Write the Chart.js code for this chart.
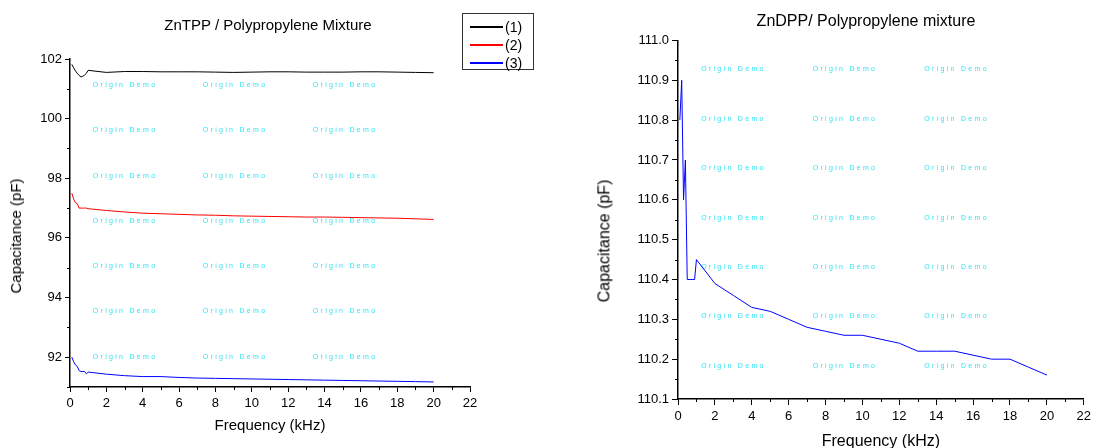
<!DOCTYPE html>
<html>
<head>
<meta charset="utf-8">
<script src="https://cdn.jsdelivr.net/npm/chart.js@4.4.1/dist/chart.umd.min.js"></script>
<style>
    body { margin: 0; width: 1095px; height: 448px; overflow: hidden; background: #fff; position: relative;
           font-family: "Liberation Sans", Arial, sans-serif; color: #000; }
    .wrap { position: absolute; top: 0; }
    #wrapL { left: 0; width: 545px; height: 448px; }
    #wrapR { left: 560px; width: 535px; height: 460px; }
    .title { position: absolute; white-space: nowrap; transform: translateX(-50%); }
    .ytitle { position: absolute; white-space: nowrap; line-height: 1.2; transform: translate(-50%, -50%) rotate(-90deg); }
    #legend { position: absolute; left: 462px; top: 13px; width: 72px; height: 57px; box-sizing: border-box;
              border: 1px solid #333; background: #fff; padding-top: 4px; font-size: 14px; forced-color-adjust: none; }
    #legend .row { height: 18px; display: flex; align-items: center; }
    #legend canvas { display: block; margin-left: 7px; margin-right: 2px; }
</style>
</head>
<body>

<div class="wrap" id="wrapL"><canvas id="chartL" width="545" height="448"></canvas></div>
<div class="wrap" id="wrapR"><canvas id="chartR" width="535" height="460"></canvas></div>

<div class="title" style="left:268px; top:16px; font-size:15px; line-height:18px;">ZnTPP / Polypropylene Mixture</div>
<div class="title" style="left:866px; top:11px; font-size:16px; line-height:19px;">ZnDPP/ Polypropylene mixture</div>
<div class="ytitle" style="left:15.5px; top:236px; font-size:15px;">Capacitance (pF)</div>
<div class="ytitle" style="left:604px; top:241px; font-size:16px;">Capacitance (pF)</div>
<div id="legend"></div>

<script>
// data
const freqKHz = [0.1, 0.2, 0.3, 0.4, 0.5, 0.6, 0.7, 0.8, 0.9, 1,
    2, 3, 4, 5, 6, 7, 8, 9, 10, 11, 12, 13, 14, 15, 16, 17, 18, 19, 20];

const seriesLabels = ['(1)', '(2)', '(3)'];
const seriesColors = ['#000000', '#ff0000', '#0000ff'];

const capTPP1 = [101.82, 101.70, 101.60, 101.52, 101.45, 101.40, 101.42, 101.46, 101.52, 101.62,
    101.55, 101.58, 101.58, 101.57, 101.57, 101.57, 101.56, 101.55, 101.56, 101.57,
    101.57, 101.56, 101.56, 101.56, 101.57, 101.57, 101.56, 101.55, 101.54];
const capTPP2 = [97.50, 97.30, 97.18, 97.15, 97.00, 97.00, 97.00, 97.00, 97.00, 96.98,
    96.92, 96.87, 96.83, 96.81, 96.79, 96.77, 96.76, 96.74, 96.73, 96.72,
    96.71, 96.70, 96.70, 96.69, 96.68, 96.67, 96.66, 96.64, 96.62];
const capTPP3 = [92.00, 91.85, 91.74, 91.69, 91.55, 91.52, 91.52, 91.52, 91.44, 91.50,
    91.43, 91.38, 91.35, 91.35, 91.32, 91.30, 91.29, 91.28, 91.27, 91.26,
    91.25, 91.24, 91.23, 91.22, 91.21, 91.20, 91.19, 91.18, 91.17];

const capDPP = [110.80, 110.90, 110.60, 110.70, 110.40, 110.40, 110.40, 110.40, 110.40, 110.45,
    110.39, 110.36, 110.33, 110.32, 110.30, 110.28, 110.27, 110.26, 110.26, 110.25,
    110.24, 110.22, 110.22, 110.22, 110.21, 110.20, 110.20, 110.18, 110.16];

// axis ranges / ticks
const freqRange = [0, 22], freqStep = 2;
const tppRange = [91, 102], tppStep = 2;
const dppRange = [110.1, 111.0], dppStep = 0.1;

const FONT = '"Liberation Sans", Arial, sans-serif';
Chart.defaults.font.family = FONT;
Chart.defaults.color = '#000';

function pts(xs, ys) {
    return xs.map((x, i) => ({ x: x, y: ys[i] }));
}

// short ticks half way between the labelled ones
const minorTicks = {
    id: 'minorTicks',
    afterDraw(chart, args, opts) {
        const ctx = chart.ctx, a = chart.chartArea;
        ctx.save();
        ctx.strokeStyle = '#000';
        ctx.lineWidth = 1;
        ['x', 'y'].forEach(id => {
            const s = chart.scales[id];
            const vals = s.ticks.map(t => t.value);
            const step = vals[1] - vals[0];
            for (let v = vals[0] - step / 2; v <= s.max + 1e-9; v += step) {
                if (v < s.min - 1e-9) continue;
                const p = Math.round(s.getPixelForValue(v)) + 0.5;
                ctx.beginPath();
                if (id === 'x') { ctx.moveTo(p, a.bottom); ctx.lineTo(p, a.bottom + opts.len); }
                else { ctx.moveTo(a.left, p); ctx.lineTo(a.left - opts.len, p); }
                ctx.stroke();
            }
        });
        ctx.restore();
    }
};

// the "Origin Demo" stamp grid
const watermark = {
    id: 'watermark',
    beforeDatasetsDraw(chart) {
        const ctx = chart.ctx, a = chart.chartArea;
        const w = a.right - a.left, h = a.bottom - a.top;
        const txt = 'Origin Demo';
        ctx.save();
        ctx.font = '7px ' + FONT;
        ctx.fillStyle = '#30e4f4';
        ctx.textBaseline = 'middle';
        for (let j = 0; j < 7; j++) {
            for (let i = 0; i < 3; i++) {
                let x = a.left + w * (0.057 + 0.275 * i);
                const y = a.top + h * (0.08 + 0.138 * j);
                for (const ch of txt) {
                    ctx.fillText(ch, x, y);
                    x += ctx.measureText(ch).width + 2.3;
                }
            }
        }
        ctx.restore();
    }
};

function axes(opt) {
    return {
        x: {
            type: 'linear', min: freqRange[0], max: freqRange[1],
            ticks: { stepSize: freqStep, padding: opt.xPad, font: { size: 13 }, maxRotation: 0 },
            grid: { drawOnChartArea: false, tickLength: opt.tick, tickColor: '#000' },
            border: { color: '#000', width: 1.5 },
            title: { display: true, text: 'Frequency (kHz)', font: { size: opt.xTitleSize }, padding: { top: 0, bottom: opt.xTitlePad } },
            afterFit: s => { s.height = opt.xH; }
        },
        y: {
            type: 'linear', min: opt.yRange[0], max: opt.yRange[1],
            ticks: { stepSize: opt.yStep, includeBounds: false, padding: 3, font: { size: 13 }, callback: opt.yFmt },
            grid: { drawOnChartArea: false, tickLength: opt.tick, tickColor: '#000' },
            border: { color: '#000', width: 1.5 },
            afterFit: s => { s.width = opt.yW; }
        }
    };
}

const chartL = new Chart(document.getElementById('chartL'), {
    type: 'line',
    data: {
        datasets: [capTPP1, capTPP2, capTPP3].map((ys, i) => ({
            label: seriesLabels[i],
            data: pts(freqKHz, ys),
            borderColor: seriesColors[i],
            borderWidth: 1,
            pointRadius: 0,
            tension: 0,
            fill: false
        }))
    },
    options: {
        responsive: false,
        animation: false,
        layout: { padding: { top: 59, right: 75, bottom: 0, left: 0 } },
        plugins: { legend: { display: false }, tooltip: { enabled: false }, minorTicks: { len: 3 } },
        scales: axes({ xPad: 4, tick: 5, xTitleSize: 15, xTitlePad: 13, xH: 61,
                       yRange: tppRange, yStep: tppStep, yW: 70, yFmt: v => v })
    },
    plugins: [watermark, minorTicks]
});

const chartR = new Chart(document.getElementById('chartR'), {
    type: 'line',
    data: {
        datasets: [{
            label: 'ZnDPP',
            data: pts(freqKHz, capDPP),
            borderColor: '#0000ff',
            borderWidth: 1,
            pointRadius: 0,
            tension: 0,
            fill: false
        }]
    },
    options: {
        responsive: false,
        animation: false,
        layout: { padding: { top: 40.5, right: 8.5, bottom: 0, left: 0 } },
        plugins: { legend: { display: false }, tooltip: { enabled: false }, minorTicks: { len: 3 } },
        scales: axes({ xPad: 4, tick: 6, xTitleSize: 16, xTitlePad: 9, xH: 61,
                       yRange: dppRange, yStep: dppStep, yW: 118, yFmt: v => v.toFixed(1) })
    },
    plugins: [watermark, minorTicks]
});

// legend box for the left chart, built from its datasets
const legendEl = document.getElementById('legend');
chartL.data.datasets.forEach((ds, i) => {
    const row = document.createElement('div');
    row.className = 'row';
    const sw = document.createElement('canvas');
    sw.width = 33;
    sw.height = 2;
    const c = sw.getContext('2d');
    c.fillStyle = seriesColors[i];
    c.fillRect(0, 0, 33, 2);
    const tx = document.createElement('span');
    tx.textContent = ds.label;
    row.appendChild(sw);
    row.appendChild(tx);
    legendEl.appendChild(row);
});
</script>
</body>
</html>
